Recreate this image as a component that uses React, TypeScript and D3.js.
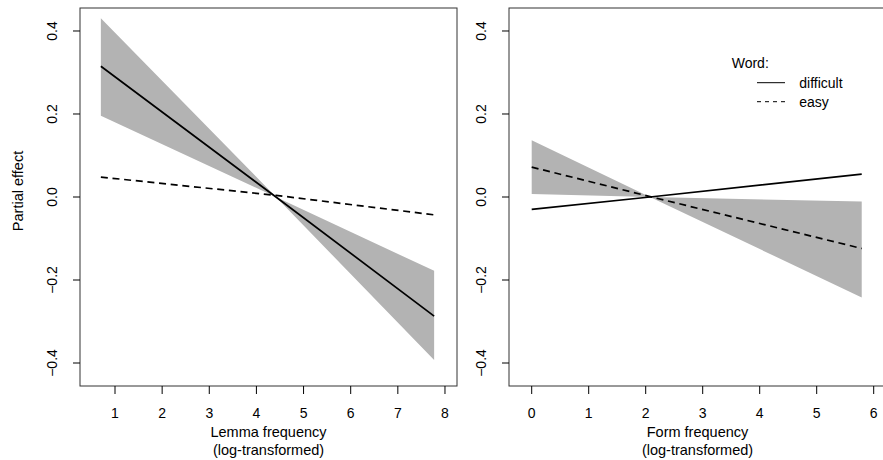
import React from "react";
import * as d3 from "d3";

// ---------- data ----------
const leftXTicks = [1, 2, 3, 4, 5, 6, 7, 8];
const rightXTicks = [0, 1, 2, 3, 4, 5, 6];
const yTicks = [-0.4, -0.2, 0.0, 0.2, 0.4];
const yTickLabels = ["\u22120.4", "\u22120.2", "0.0", "0.2", "0.4"];

// Left panel: Lemma frequency
const leftX = [0.7, 4.415, 7.77];
const leftDifficult = [0.315, 0.0, -0.287];
const leftEasy = [0.048, 0.004, -0.043];
const leftBandUpper = [0.431, 0.0, -0.178];
const leftBandLower = [0.196, 0.0, -0.393];

// Right panel: Form frequency
const rightX = [0, 2.075, 5.79];
const rightDifficult = [-0.03, 0.0, 0.055];
const rightEasy = [0.072, 0.001, -0.124];
const rightBandUpper = [0.137, 0.0, -0.011];
const rightBandLower = [0.007, 0.0, -0.242];

const legendTitle = "Word:";
const legendLabels = ["difficult", "easy"];

const FONT = "'Liberation Sans', Arial, Helvetica, sans-serif";

type PanelProps = {
  x0: number;
  x1: number;
  xDomain: [number, number];
  xTicks: number[];
  xs: number[];
  difficult: number[];
  easy: number[];
  upper: number[];
  lower: number[];
  title: string[];
  showYTitle: boolean;
  showLegend: boolean;
};

const TOP = 8;
const BOTTOM = 386;

function Panel(p: PanelProps) {
  const x = d3.scaleLinear().domain(p.xDomain).range([p.x0, p.x1]);
  const y = d3.scaleLinear().domain([-0.4554, 0.4554]).range([BOTTOM, TOP]);
  const line = d3
    .line<[number, number]>()
    .x((d) => x(d[0]))
    .y((d) => y(d[1]));
  const band = d3
    .area<number>()
    .x((_, i) => x(p.xs[i]))
    .y0((_, i) => y(p.lower[i]))
    .y1((_, i) => y(p.upper[i]));
  const idx = p.xs.map((_, i) => i);
  const dPts = p.xs.map((v, i) => [v, p.difficult[i]] as [number, number]);
  const ePts = p.xs.map((v, i) => [v, p.easy[i]] as [number, number]);
  const cx = (p.x0 + p.x1) / 2;
  const yLabelX = p.x0 - 28;
  return (
    <g>
      <path d={band(idx) || ""} fill="#b3b3b3" stroke="none" />
      <path d={line(dPts) || ""} fill="none" stroke="#000" strokeWidth={1.7} />
      <path
        d={line(ePts) || ""}
        fill="none"
        stroke="#000"
        strokeWidth={1.7}
        strokeDasharray="7,4.7"
      />
      <rect
        x={p.x0}
        y={TOP}
        width={p.x1 - p.x0}
        height={BOTTOM - TOP}
        fill="none"
        stroke="#333"
        strokeWidth={1}
      />
      {/* y axis */}
      {yTicks.map((t, i) => (
        <g key={"y" + i}>
          <line x1={p.x0 - 7} x2={p.x0} y1={y(t)} y2={y(t)} stroke="#000" />
          <text
            transform={`translate(${yLabelX},${y(t)}) rotate(-90)`}
            textAnchor="middle"
            dy="0.36em"
            fontSize={14}
            fontFamily={FONT}
            fill="#000"
          >
            {yTickLabels[i]}
          </text>
        </g>
      ))}
      {/* x axis */}
      {p.xTicks.map((t) => (
        <g key={"x" + t}>
          <line x1={x(t)} x2={x(t)} y1={BOTTOM} y2={BOTTOM + 8} stroke="#000" />
          <text
            x={x(t)}
            y={417.7}
            textAnchor="middle"
            fontSize={14}
            fontFamily={FONT}
            fill="#000"
          >
            {t}
          </text>
        </g>
      ))}
      <text x={cx} y={436.7} textAnchor="middle" fontSize={14.5} fontFamily={FONT} fill="#000">
        {p.title[0]}
      </text>
      <text x={cx} y={455} textAnchor="middle" fontSize={14.5} fontFamily={FONT} fill="#000">
        {p.title[1]}
      </text>
      {p.showYTitle && (
        <text
          transform={`translate(23,${(TOP + BOTTOM) / 2 - 6}) rotate(-90)`}
          textAnchor="middle"
          fontSize={14.5}
          fontFamily={FONT}
          fill="#000"
        >
          Partial effect
        </text>
      )}
      {p.showLegend && (
        <g fontFamily={FONT} fontSize={14} fill="#000">
          <text x={731.7} y={68.3}>
            {legendTitle}
          </text>
          <line x1={757} x2={785} y1={82.7} y2={82.7} stroke="#000" strokeWidth={1} />
          <text x={799.3} y={87.8}>
            {legendLabels[0]}
          </text>
          <line
            x1={757}
            x2={785}
            y1={101.7}
            y2={101.7}
            stroke="#000"
            strokeWidth={1}
            strokeDasharray="4,4"
          />
          <text x={799.3} y={106.5}>
            {legendLabels[1]}
          </text>
        </g>
      )}
    </g>
  );
}

export default function App() {
  return (
    <div style={{ position: "absolute", left: 0, top: 0, background: "#fff" }}>
      <svg width={883} height={460} style={{ display: "block" }}>
        <rect width={883} height={460} fill="#fff" />
        <Panel
          x0={80}
          x1={457}
          xDomain={[0.2575, 8.255]}
          xTicks={leftXTicks}
          xs={leftX}
          difficult={leftDifficult}
          easy={leftEasy}
          upper={leftBandUpper}
          lower={leftBandLower}
          title={["Lemma frequency", "(log-transformed)"]}
          showYTitle={true}
          showLegend={false}
        />
        <Panel
          x0={509}
          x1={886}
          xDomain={[-0.3982, 6.216]}
          xTicks={rightXTicks}
          xs={rightX}
          difficult={rightDifficult}
          easy={rightEasy}
          upper={rightBandUpper}
          lower={rightBandLower}
          title={["Form frequency", "(log-transformed)"]}
          showYTitle={false}
          showLegend={true}
        />
      </svg>
    </div>
  );
}
